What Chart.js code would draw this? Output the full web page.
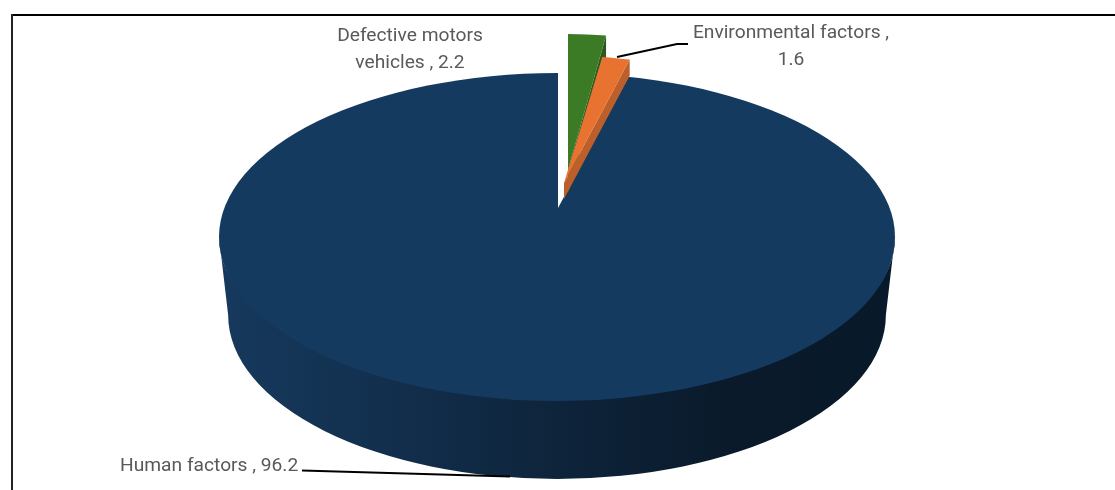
<!DOCTYPE html>
<html>
<head>
<meta charset="utf-8">
<title>Causes of accidents</title>
<script src="https://cdn.jsdelivr.net/npm/chart.js@4"></script>
<style>
    html, body { margin: 0; padding: 0; background: #fff; }
    canvas { display: block; }
</style>
</head>
<body>
<canvas id="pieChart" width="1115" height="490"></canvas>
<script>
'use strict';

const categories = ['Defective motors vehicles', 'Environmental factors', 'Human factors'];
const values = [2.2, 1.6, 96.2];

const colors = ['#3c7b25', '#e8722f', '#153a60'];
const wallColors = ['#2a5a1c', '#bd5f2b', null];

// Flattened look of each slice: shift from the pie centre, x and y scale of the circle, wall depth
const sliceShift = [[11, -67], [7, -54], [1, -29]];
const sliceScale = [[0.817, 0.402], [0.822, 0.376], [1.4, 0.633]];
const wallDepth = [24, 16, 78];

// The big slice is cut down to this ellipse, its point sits above the centre (perspective)
const discTilt = 0.485;
const rimTaper = 0.973;

// Where the labels sit: anchor x, first baseline y, alignment, wrap width
const labelPlace = [
    { x: 410, y: 41, align: 'center', wrap: 170 },
    { x: 791, y: 38, align: 'center', wrap: 205 },
    { x: 120, y: 471, align: 'left', wrap: 400 }
];
const leaderLines = [
    null,
    [[617, 57], [677, 44], [688, 44]],
    [[302, 470.5], [510, 476.5]]
];

function wrapLabel(ctx, text, maxWidth) {
    const lines = [];
    let line = '';
    text.split(' ').forEach(function(word) {
        const next = line ? line + ' ' + word : word;
        if (line && ctx.measureText(next).width > maxWidth) {
            lines.push(line);
            line = word;
        } else {
            line = next;
        }
    });
    lines.push(line);
    return lines;
}

// Front wall of the big slice, a wider top ellipse joined to a smaller bottom one
function drawRim(ctx, arc, index) {
    const rx = arc.outerRadius;
    const ry = arc.outerRadius * discTilt;
    const gradient = ctx.createLinearGradient(arc.x - rx, 0, arc.x + rx, 0);
    gradient.addColorStop(0, '#16395d');
    gradient.addColorStop(0.25, '#122f4d');
    gradient.addColorStop(0.5, '#0e243b');
    gradient.addColorStop(0.75, '#0a1a2b');
    gradient.addColorStop(1, '#081929');
    ctx.beginPath();
    // tucked a little under the top face so no seam shows
    ctx.ellipse(arc.x, arc.y, rx, ry - 4, 0, 0, Math.PI);
    ctx.ellipse(arc.x, arc.y + wallDepth[index], rx * rimTaper, ry, 0, Math.PI, 0, true);
    ctx.closePath();
    ctx.fillStyle = gradient;
    ctx.fill();
}

// Cut face along the clockwise edge of an exploded slice
function drawCutFace(ctx, arc, index) {
    const cx = arc.x + sliceShift[index][0];
    const cy = arc.y + sliceShift[index][1];
    const ox = cx + arc.outerRadius * sliceScale[index][0] * Math.cos(arc.endAngle);
    const oy = cy + arc.outerRadius * sliceScale[index][1] * Math.sin(arc.endAngle);
    ctx.beginPath();
    ctx.moveTo(cx, cy);
    ctx.lineTo(ox, oy);
    ctx.lineTo(ox, oy + wallDepth[index]);
    ctx.lineTo(cx, cy + wallDepth[index]);
    ctx.closePath();
    ctx.fillStyle = wallColors[index];
    ctx.fill();
}

const tiltedPie = {
    id: 'tiltedPie',
    beforeDraw: function(chart) {
        const ctx = chart.ctx;
        ctx.save();
        ctx.fillStyle = '#000';
        ctx.fillRect(12, 14, chart.width - 12, 2);
        ctx.fillStyle = '#222';
        ctx.fillRect(11, 14, 2, chart.height - 14);
        ctx.restore();
    },
    beforeDatasetsDraw: function(chart) {
        const ctx = chart.ctx;
        const arcs = chart.getDatasetMeta(0).data;
        // big slice first, the exploded ones sit on top of it
        [2, 0, 1].forEach(function(i) {
            const arc = arcs[i];
            ctx.save();
            if (wallColors[i]) {
                drawCutFace(ctx, arc, i);
            } else {
                drawRim(ctx, arc, i);
                ctx.beginPath();
                ctx.ellipse(arc.x, arc.y, arc.outerRadius, arc.outerRadius * discTilt, 0, 0, Math.PI * 2);
                ctx.clip();
            }
            ctx.translate(arc.x + sliceShift[i][0], arc.y + sliceShift[i][1]);
            ctx.scale(sliceScale[i][0], sliceScale[i][1]);
            ctx.translate(-arc.x, -arc.y);
            arc.draw(ctx);
            ctx.restore();
        });
        return false;
    },
    afterDraw: function(chart) {
        const ctx = chart.ctx;
        ctx.save();
        ctx.font = '19.2px Roboto';
        ctx.fillStyle = '#595959';
        ctx.textBaseline = 'alphabetic';
        categories.forEach(function(name, i) {
            const place = labelPlace[i];
            ctx.textAlign = place.align;
            wrapLabel(ctx, name + ' , ' + values[i], place.wrap).forEach(function(line, n) {
                ctx.fillText(line, place.x, place.y + n * 26.5);
            });
        });
        ctx.strokeStyle = '#000';
        ctx.lineWidth = 2;
        leaderLines.forEach(function(points) {
            if (!points) {
                return;
            }
            ctx.beginPath();
            points.forEach(function(p, n) {
                if (n === 0) {
                    ctx.moveTo(p[0], p[1]);
                } else {
                    ctx.lineTo(p[0], p[1]);
                }
            });
            ctx.stroke();
        });
        ctx.restore();
    }
};

new Chart(document.getElementById('pieChart').getContext('2d'), {
    type: 'pie',
    data: {
        labels: categories,
        datasets: [{
            data: values,
            backgroundColor: colors,
            borderWidth: 0
        }]
    },
    options: {
        responsive: false,
        animation: false,
        radius: 338,
        layout: { padding: { left: 0, right: 1, top: 0, bottom: 16 } },
        plugins: {
            legend: { display: false },
            tooltip: { enabled: false }
        }
    },
    plugins: [tiltedPie]
});
</script>
</body>
</html>
